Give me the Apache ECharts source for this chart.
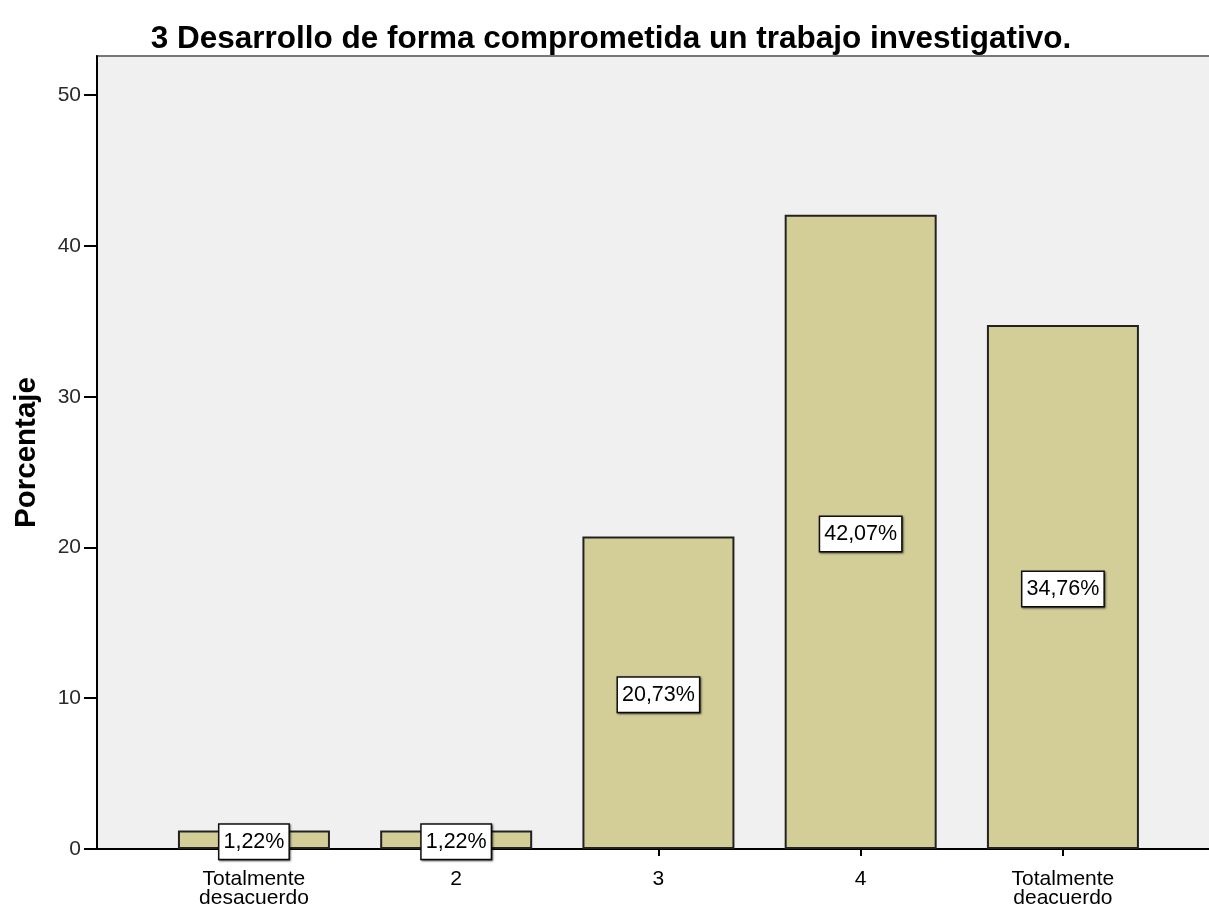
<!DOCTYPE html>
<html>
<head>
<meta charset="utf-8">
<script src="https://cdn.jsdelivr.net/npm/echarts@6/dist/echarts.min.js"></script>
<style>
  html, body { margin: 0; padding: 0; background: #fff; }
  #chart { width: 1209px; height: 907px; }
</style>
</head>
<body>
<div id="chart"></div>
<script>
// data
const categories = ['Totalmente\ndesacuerdo', '2', '3', '4', 'Totalmente\ndeacuerdo'];
const percentages = [1.22, 1.22, 20.73, 42.07, 34.76];
const yTicks = [0, 10, 20, 30, 40, 50];

const chart = echarts.init(document.getElementById('chart'));
const fontFamily = '"Liberation Sans", Arial, sans-serif';

chart.setOption({
  animation: false,
  title: {
    text: '3 Desarrollo de forma comprometida un trabajo investigativo.',
    left: 606,
    textAlign: 'center',
    top: 18,
    textStyle: { fontFamily: fontFamily, fontSize: 31.5, fontWeight: 'bold', color: '#000' }
  },
  grid: {
    left: 97,
    top: 56,
    right: -5,
    bottom: 58,
    outerBoundsMode: 'none',
    show: true,
    backgroundColor: '#f0f0f0',
    borderColor: '#777',
    borderWidth: 2
  },
  xAxis: {
    type: 'value',
    min: -0.776,
    max: 4.747,
    splitLine: { show: false },
    axisLine: { show: true, onZero: false, lineStyle: { color: '#000', width: 2 } },
    axisTick: {
      show: true,
      customValues: [0, 1, 2, 3, 4],
      length: 7,
      lineStyle: { color: '#000', width: 2 }
    },
    axisLabel: {
      customValues: [0, 1, 2, 3, 4],
      formatter: v => categories[Math.round(v)],
      margin: 21,
      fontFamily: fontFamily,
      fontSize: 21,
      lineHeight: 19,
      color: '#000'
    }
  },
  yAxis: {
    type: 'value',
    min: 0,
    max: 52.6,
    interval: 10,
    name: 'Porcentaje',
    nameLocation: 'middle',
    nameGap: 55,
    nameRotate: 90,
    nameTextStyle: { fontFamily: fontFamily, fontSize: 29.5, fontWeight: 'bold', color: '#000' },
    splitLine: { show: false },
    axisLine: { show: true, onZero: false, lineStyle: { color: '#000', width: 2 } },
    axisTick: { show: true, length: 13, lineStyle: { color: '#000', width: 2 } },
    axisLabel: {
      showMaxLabel: false,
      formatter: v => (yTicks.indexOf(v) >= 0 ? String(v) : ''),
      margin: 16,
      fontFamily: fontFamily,
      fontSize: 21,
      color: '#2a2a2a'
    }
  },
  series: [{
    type: 'bar',
    data: percentages.map((v, i) => [i, v]),
    barWidth: 152,
    itemStyle: { color: '#d3ce97', borderColor: '#222', borderWidth: 2 },
    label: {
      show: true,
      position: 'inside',
      formatter: p => p.value[1].toFixed(2).replace('.', ',') + '%',
      fontFamily: fontFamily,
      fontSize: 21.5,
      color: '#000',
      backgroundColor: '#fff',
      borderColor: '#111',
      borderWidth: 1.5,
      padding: [6, 4, 6, 4],
      offset: [0, 2],
      shadowColor: 'rgba(0,0,0,0.55)',
      shadowOffsetX: 1,
      shadowOffsetY: 1,
      shadowBlur: 2
    }
  }]
});
</script>
</body>
</html>
